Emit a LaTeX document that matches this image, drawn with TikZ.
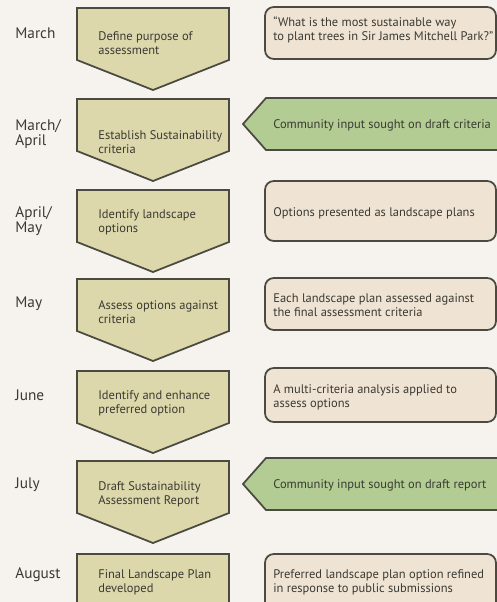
\documentclass[tikz,border=0pt]{standalone}
\usepackage{fontspec}
\setmainfont{PT Sans}
\usepackage{xcolor}
\usepackage{tikz}
\usetikzlibrary{positioning}

\definecolor{bgcol}{HTML}{F6F3EE}
\definecolor{stepcol}{HTML}{DDD7AC}
\definecolor{notecol}{HTML}{EFE3D4}
\definecolor{inputcol}{HTML}{B2CC94}
\definecolor{edgecol}{HTML}{4A4A40}
\definecolor{txtcol}{HTML}{3A3A32}

\begin{document}
\begin{tikzpicture}[x=0.02cm, y=-0.02cm,
    stepbox/.style={draw=edgecol, fill=stepcol, line width=1pt, line join=miter},
    notebox/.style={draw=edgecol, fill=notecol, line width=1pt, rounded corners=5},
    inputbox/.style={draw=edgecol, fill=inputcol, line width=1pt},
    month/.style={anchor=west, align=left, inner sep=0pt, text=txtcol,
        font=\fontsize{8.7}{7}\selectfont},
    steptext/.style={anchor=west, align=left, inner sep=0pt, text=txtcol,
        font=\fontsize{7.1}{7.9}\selectfont}]
    % Nền
    \useasboundingbox (0,0) rectangle (497,602);
    \fill[bgcol] (0,0) rectangle (497,602);
    \clip (0,0) rectangle (497,602);

    % Các bước (hình mũi tên xuống)
    \foreach \i/\t/\dy/\txt in {1/8/35/{Define purpose of\\assessment},
        2/99/43/{Establish Sustainability\\criteria},
        3/190/32/{Identify landscape\\options},
        4/279/33/{Assess options against\\criteria},
        5/371/32/{Identify and enhance\\preferred option},
        6/461/33/{Draft Sustainability\\Assessment Report}} {
        \draw[stepbox] (77,\t) -- (229,\t) -- (229,\t+52) -- (153,\t+82)
            -- (77,\t+52) -- cycle;
        \node[steptext] (step\i) at (98,\t+\dy) {\txt};
    }
    \draw[stepbox] (77,554) rectangle (229,640);
    \node[steptext] (step7) at (98,582) {Final Landscape Plan\\developed};

    % Các tháng
    \node[month] (m1) at (15,33) {March};
    \node[month] (m2) at (15,134) {March/\\April};
    \node[month] (m3) at (15,221) {April/\\May};
    \node[month] (m4) at (15,304) {May};
    \node[month] (m5) at (15,395) {June};
    \node[month] (m6) at (15,485) {July};
    \node[month] (m7) at (15,575) {August};

    % Ghi chú bên phải
    \draw[notebox] (265,7) rectangle (496,59);
    \node[steptext] (n1) at (273,30) {``What is the most sustainable way\\to plant trees in Sir James Mitchell Park?''};
    \draw[notebox] (265,181) rectangle (496,241);
    \node[steptext] (n3) at (273,213) {Options presented as landscape plans};
    \draw[notebox] (265,278) rectangle (496,330);
    \node[steptext] (n4) at (273,305) {Each landscape plan assessed against\\the final assessment criteria};
    \draw[notebox] (265,368) rectangle (496,422);
    \node[steptext] (n5) at (273,397) {A multi-criteria analysis applied to\\assess options};
    \draw[notebox] (265,554) rectangle (496,640);
    \node[steptext] (n7) at (273,582) {Preferred landscape plan option refined\\in response to public submissions};

    % Ý kiến cộng đồng
    \foreach \i/\t/\txt in {2/98/{Community input sought on draft criteria},
        6/458/{Community input sought on draft report}} {
        \filldraw[inputbox] (500,\t) -- (266,\t) -- (243,\t+26) -- (266,\t+52)
            -- (500,\t+52);
        \node[steptext] (c\i) at (273,\t+27) {\txt};
    }
\end{tikzpicture}
\end{document}
